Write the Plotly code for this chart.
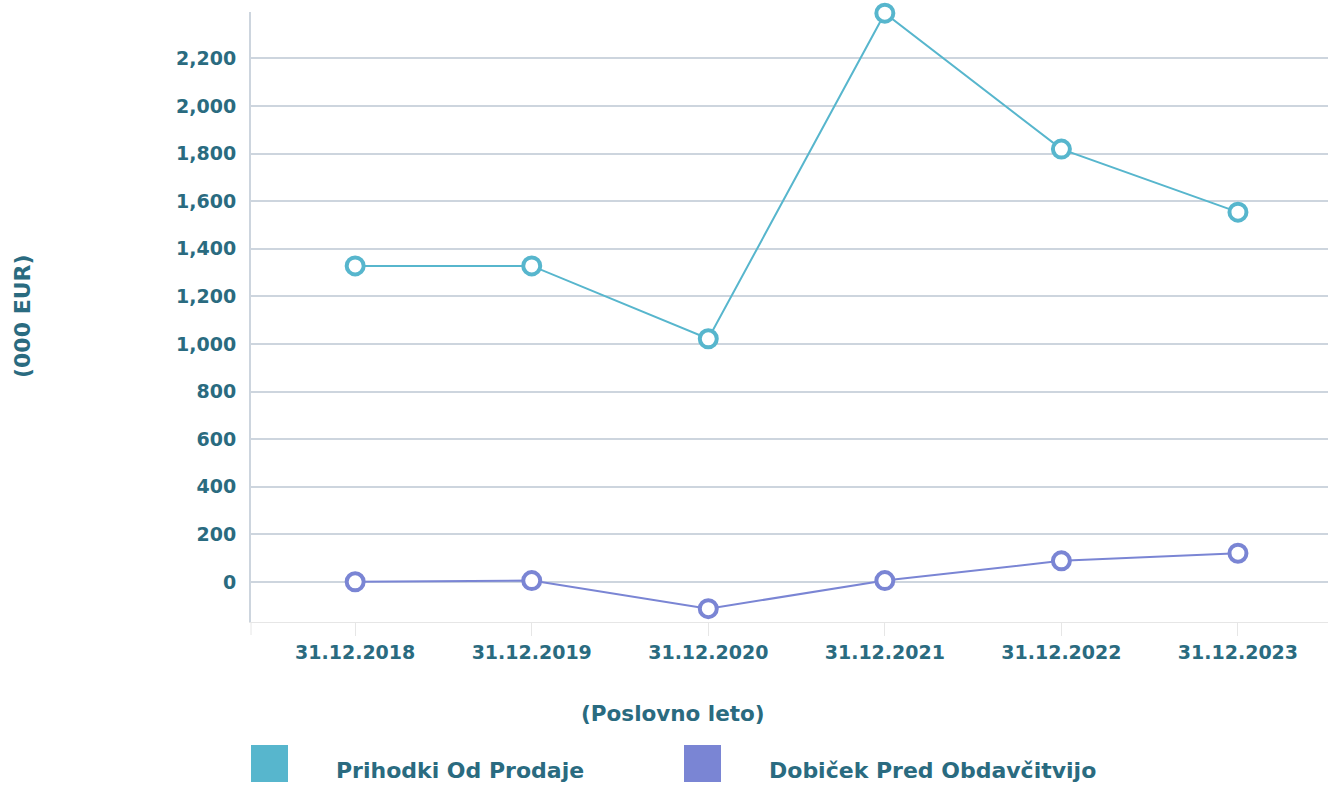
import plotly.graph_objects as go

categories = ["31.12.2018", "31.12.2019", "31.12.2020", "31.12.2021", "31.12.2022", "31.12.2023"]
prihodki = [1328, 1328, 1022, 2390, 1819, 1554]
dobicek = [1, 6, -112, 6, 89, 121]
series_names = ["Prihodki Od Prodaje", "Dobiček Pred Obdavčitvijo"]
series_colors = ["#57b6cd", "#7a85d4"]
tick_vals = [0, 200, 400, 600, 800, 1000, 1200, 1400, 1600, 1800, 2000, 2200]

TXT = "#2a6b80"
FONT = "DejaVu Sans"

fig = go.Figure()
for name, vals, col in zip(series_names, [prihodki, dobicek], series_colors):
    fig.add_trace(go.Scatter(
        x=list(range(len(categories))), y=vals, name=name, mode="lines+markers",
        line=dict(color=col, width=2),
        marker=dict(symbol="circle", size=17, color="white", line=dict(color=col, width=4)),
        cliponaxis=False, showlegend=False,
    ))

fig.update_layout(
    width=1328, height=786,
    margin=dict(l=251, r=0, t=12, b=164),
    paper_bgcolor="white", plot_bgcolor="white",
    font=dict(family=FONT, color=TXT),
    xaxis=dict(
        range=[-0.59, 5.51], tickmode="array", tickvals=list(range(len(categories))),
        ticktext=categories, showgrid=False, zeroline=False,
        showline=True, linecolor="#e6e6e6", linewidth=1,
        ticks="outside", ticklen=13, tickcolor="#e6e6e6", tickwidth=1,
        tickfont=dict(family=FONT, size=19, color=TXT, weight="bold"),
    ),
    yaxis=dict(
        range=[-168, 2395], tickmode="array", tickvals=tick_vals,
        ticktext=[f"{v:,}" for v in tick_vals],
        showgrid=True, gridcolor="#cdd5de", gridwidth=2, zeroline=False,
        showline=True, linecolor="#cdd5de", linewidth=2,
        ticks="", ticklabelstandoff=9,
        tickfont=dict(family=FONT, size=19, color=TXT, weight="bold"),
    ),
)

# left tick at axis start
fig.add_shape(type="line", xref="paper", yref="paper", x0=0, x1=0, y0=0, y1=-13/610,
              line=dict(color="#e6e6e6", width=1))

# axis titles
fig.add_annotation(text="(000 EUR)", xref="paper", yref="paper", x=-229/1077, y=(622-316)/610,
                   textangle=-90, showarrow=False, xanchor="center", yanchor="middle",
                   font=dict(family=FONT, size=22, color=TXT, weight="bold"))
fig.add_annotation(text="(Poslovno leto)", xref="paper", yref="paper", x=(673-251)/1077, y=-(714-622)/610,
                   showarrow=False, xanchor="center", yanchor="middle",
                   font=dict(family=FONT, size=21.5, color=TXT, weight="bold"))

# legend
leg_x = [251, 684]
for name, col, lx in zip(series_names, series_colors, leg_x):
    fig.add_shape(type="rect", xref="paper", yref="paper",
                  x0=(lx-251)/1077, x1=(lx+37-251)/1077,
                  y0=-(782-622)/610, y1=-(745-622)/610,
                  fillcolor=col, line=dict(width=0))
    fig.add_annotation(text=name, xref="paper", yref="paper", x=(lx+83-251)/1077, y=-(770-622)/610,
                       showarrow=False, xanchor="left", yanchor="middle",
                       font=dict(family=FONT, size=22, color=TXT, weight="bold"))

fig.write_html("out.html", config={"displayModeBar": False},
               post_script="document.body.style.margin='0';")
